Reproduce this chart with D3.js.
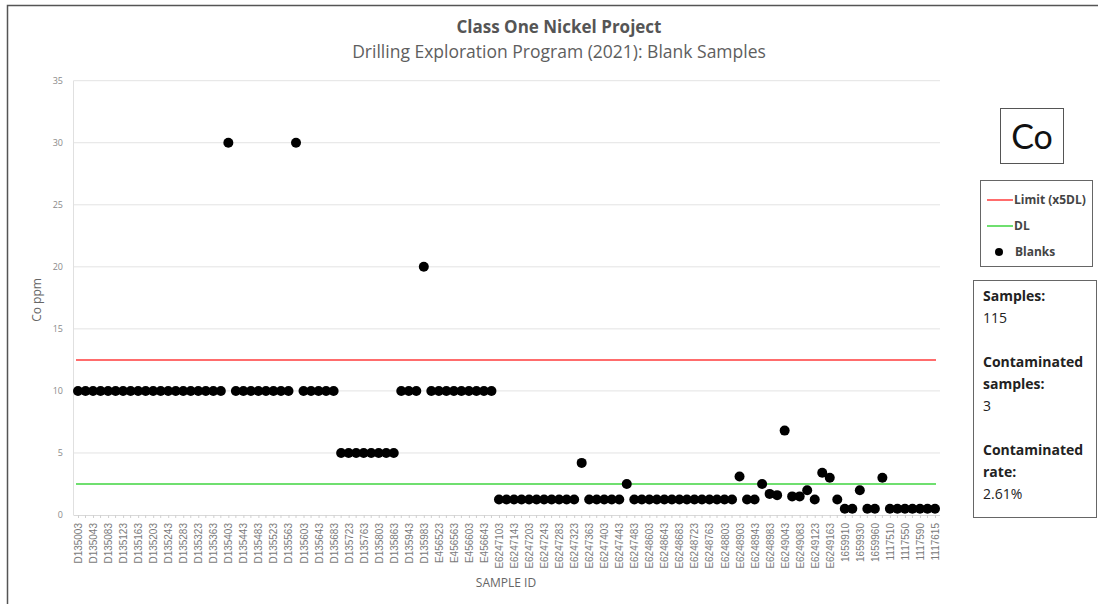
<!DOCTYPE html>
<html><head><meta charset="utf-8">
<script src="https://cdn.jsdelivr.net/npm/d3@7"></script>
<style>body{margin:0;background:#fff;}svg{display:block;font-family:"Open Sans","Noto Sans",sans-serif;}</style>
</head><body>
<svg id="c" width="1098" height="605"></svg>
<script>
const sampleIds = [
"D135003","D135023","D135043","D135063","D135083","D135103","D135123","D135143","D135163","D135183",
"D135203","D135223","D135243","D135263","D135283","D135303","D135323","D135343","D135363","D135383",
"D135403","D135423","D135443","D135463","D135483","D135503","D135523","D135543","D135563","D135583",
"D135603","D135623","D135643","D135663","D135683","D135703","D135723","D135743","D135763","D135783",
"D135803","D135823","D135863","D135903","D135943","D135963","D135983","E456503","E456523","E456543",
"E456563","E456583","E456603","E456623","E456643","E456663","E6247103","E6247123","E6247143","E6247163",
"E6247203","E6247223","E6247243","E6247263","E6247283","E6247303","E6247323","E6247343","E6247363","E6247383",
"E6247403","E6247423","E6247443","E6247463","E6247483","E6247503","E6248603","E6248623","E6248643","E6248663",
"E6248683","E6248703","E6248723","E6248743","E6248763","E6248783","E6248803","E6248823","E6248903","E6248923",
"E6248943","E6248963","E6248983","E6249003","E6249043","E6249063","E6249083","E6249103","E6249123","E6249143",
"E6249163","E6249183","1659910","1659920","1659930","1659940","1659960","1659970","1117510","1117530",
"1117550","1117570","1117590","1117600","1117615"];
const coValues = [
10,10,10,10,10,10,10,10,10,10, 10,10,10,10,10,10,10,10,10,10,
30,10,10,10,10,10,10,10,10,30, 10,10,10,10,10,5,5,5,5,5,
5,5,5,10,10,10,20,10,10,10, 10,10,10,10,10,10,1.25,1.25,1.25,1.25,
1.25,1.25,1.25,1.25,1.25,1.25,1.25,4.2,1.25,1.25, 1.25,1.25,1.25,2.5,1.25,1.25,1.25,1.25,1.25,1.25,
1.25,1.25,1.25,1.25,1.25,1.25,1.25,1.25,3.1,1.25, 1.25,2.5,1.7,1.6,6.8,1.5,1.5,2.0,1.25,3.4,
3.0,1.25,0.5,0.5,2.0,0.5,0.5,3.0,0.5,0.5, 0.5,0.5,0.5,0.5,0.5];
const limitValue = 12.5;
const dlValue = 2.5;
const yTicks = [0,5,10,15,20,25,30,35];
const titleText = "Class One Nickel Project";
const subtitleText = "Drilling Exploration Program (2021): Blank Samples";
const legendItems = ["Limit (x5DL)","DL","Blanks"];
const statsLines = [["Samples:",true],["115",false],["",false],["Contaminated",true],["samples:",true],["3",false],["",false],["Contaminated",true],["rate:",true],["2.61%",false]];

const svg = d3.select("#c");
// frame
svg.append("path").attr("d","M7.5,604 L7.5,5.5 L1098,5.5").attr("fill","none").attr("stroke","#555").attr("stroke-width",1.5);

const x = d3.scalePoint().domain(sampleIds).range([78,935]);
const y = d3.scaleLinear().domain([0,35]).range([515,80.7]);
const x0 = 73.5, x1 = 940;

// gridlines
svg.append("g").selectAll("line").data(yTicks.filter(d=>d>0)).join("line")
  .attr("x1",x0).attr("x2",x1).attr("y1",d=>y(d)).attr("y2",d=>y(d))
  .attr("stroke","#e3e3e3").attr("stroke-width",1);
// y axis line
svg.append("line").attr("x1",x0).attr("x2",x0).attr("y1",y(35)).attr("y2",y(0)).attr("stroke","#e0e0e0");
// x axis
const xAxis = svg.append("g").attr("transform",`translate(0,${y(0)})`)
  .call(d3.axisBottom(x).tickValues(sampleIds.filter((d,i)=>i%2===0)).tickSize(3).tickPadding(6));
xAxis.select(".domain").attr("stroke","#d9d9d9").attr("d",`M${x0},0.5H${x1}`);
xAxis.selectAll(".tick line").attr("stroke","#d0d0d0");
xAxis.selectAll("text").attr("transform","rotate(-90)").attr("text-anchor","end")
  .attr("x",-8).attr("y",0).attr("dy","0.35em").attr("fill","#7a7a7a").attr("font-size","10px");
// minor ticks at odd indices
svg.append("g").selectAll("line").data(sampleIds.filter((d,i)=>i%2===1)).join("line")
  .attr("x1",d=>x(d)).attr("x2",d=>x(d)).attr("y1",y(0)).attr("y2",y(0)+3).attr("stroke","#d0d0d0");

// y tick labels
svg.append("g").selectAll("text").data(yTicks).join("text")
  .attr("x",63).attr("y",d=>y(d)).attr("dy","0.35em").attr("text-anchor","end")
  .attr("fill","#8a8a8a").attr("font-size","9px").text(d=>d);

// axis titles
svg.append("text").attr("transform","translate(41,300) rotate(-90)").attr("text-anchor","middle")
  .attr("fill","#666").attr("font-size","12px").text("Co ppm");
svg.append("text").attr("x",506).attr("y",587).attr("text-anchor","middle")
  .attr("fill","#666").attr("font-size","12px").text("SAMPLE ID");

// titles
svg.append("text").attr("x",559).attr("y",33).attr("text-anchor","middle").attr("font-weight","bold")
  .attr("fill","#555").attr("font-size","17px").text(titleText);
svg.append("text").attr("x",559).attr("y",58).attr("text-anchor","middle")
  .attr("fill","#5e5e5e").attr("font-size","17.5px").text(subtitleText);

// reference lines
svg.append("line").attr("x1",76).attr("x2",936).attr("y1",y(limitValue)).attr("y2",y(limitValue))
  .attr("stroke","#ff3b3b").attr("stroke-width",1.5);
svg.append("line").attr("x1",76).attr("x2",936).attr("y1",y(dlValue)).attr("y2",y(dlValue))
  .attr("stroke","#3fd43f").attr("stroke-width",1.5);

// dots
svg.append("g").selectAll("circle").data(coValues).join("circle")
  .attr("cx",(d,i)=>x(sampleIds[i])).attr("cy",d=>y(d)).attr("r",5).attr("fill","#000");

// Co box
svg.append("rect").attr("x",1000.5).attr("y",108.5).attr("width",63).attr("height",55).attr("fill","#fff").attr("stroke","#555");
svg.append("text").attr("x",1032).attr("y",149).attr("text-anchor","middle").attr("font-size","34px").attr("fill","#111")
  .attr("font-family","Lato, 'Open Sans', sans-serif").text("Co");

// legend box
svg.append("rect").attr("x",980.5).attr("y",180.5).attr("width",112).attr("height",86).attr("fill","#fff").attr("stroke","#666");
const lg = svg.append("g").attr("font-size","12px").attr("font-weight","bold").attr("fill","#444");
const lyPos = [200,226,252];
lg.append("line").attr("x1",987).attr("x2",1013).attr("y1",lyPos[0]).attr("y2",lyPos[0]).attr("stroke","#ff3b3b").attr("stroke-width",1.5);
lg.append("line").attr("x1",987).attr("x2",1013).attr("y1",lyPos[1]).attr("y2",lyPos[1]).attr("stroke","#3fd43f").attr("stroke-width",1.5);
lg.append("circle").attr("cx",999).attr("cy",lyPos[2]).attr("r",4).attr("fill","#000");
lg.selectAll("text").data(legendItems).join("text").attr("x",(d,i)=>i===2?1015:1014).attr("y",(d,i)=>lyPos[i]).attr("dy","0.35em").attr("fill","#444").text(d=>d);

// stats box
svg.append("rect").attr("x",973.5).attr("y",280.5).attr("width",123).attr("height",237).attr("fill","#fff").attr("stroke","#666");
svg.append("g").selectAll("text").data(statsLines).join("text")
  .attr("x",983).attr("y",(d,i)=>301+i*22).attr("font-size","14px")
  .attr("font-weight",d=>d[1]?"bold":"normal").attr("fill","#222").text(d=>d[0]);
</script>
</body></html>
